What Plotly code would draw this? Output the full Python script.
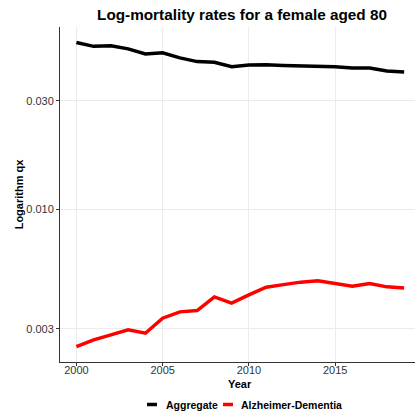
import plotly.graph_objects as go

years = list(range(2000, 2020))
aggregate = [0.0540, 0.0519, 0.0522, 0.0506, 0.0481, 0.0486, 0.0462, 0.0445, 0.0442, 0.0423,
             0.0430, 0.0431, 0.0428, 0.0427, 0.0426, 0.0422, 0.0417, 0.0417, 0.0405, 0.0401]
alzheimer = [0.002508, 0.002685, 0.002824, 0.002972, 0.002871, 0.003342, 0.003562, 0.003609,
             0.004143, 0.003888, 0.004227, 0.004570, 0.004688, 0.004808, 0.004871, 0.004758,
             0.004614, 0.004740, 0.004584, 0.004536]
series_names = ["Aggregate", "Alzheimer-Dementia"]
series_colors = ["black", "#ff0000"]
y_ticks = [0.003, 0.010, 0.030]
y_tick_labels = ["0.003", "0.010", "0.030"]
x_ticks = [2000, 2005, 2010, 2015]

W, H = 415, 412
L, R, T, B = 60, 0, 27, 50
pw, ph = W - L - R, H - T - B


def px_x(px):
    return (px - L) / pw


def px_y(py):
    return (H - B - py) / ph


fig = go.Figure()
for name, vals, col in zip(series_names, [aggregate, alzheimer], series_colors):
    fig.add_trace(go.Scatter(x=years, y=vals, mode="lines", name=name,
                             line=dict(color=col, width=3.5), showlegend=False))

# custom legend (short key lines like ggplot)
legend_pos = [(147, 164), (223, 239)]
for (sx, tx), name, col in zip(legend_pos, series_names, series_colors):
    fig.add_shape(type="line", xref="paper", yref="paper",
                  x0=px_x(sx), x1=px_x(sx + 10), y0=px_y(404.5), y1=px_y(404.5),
                  line=dict(color=col, width=3.5))
    fig.add_annotation(text=f"<b>{name}</b>", xref="paper", yref="paper",
                       x=px_x(tx), y=px_y(404.5), xanchor="left", yanchor="middle",
                       showarrow=False, font=dict(size=10.5, color="black"))

fig.add_annotation(text="<b>Year</b>", xref="paper", yref="paper",
                   x=px_x(240), y=px_y(384), xanchor="center", yanchor="middle",
                   showarrow=False, font=dict(size=11, color="black"))

fig.update_layout(
    width=W, height=H,
    margin=dict(l=L, r=R, t=T, b=B, autoexpand=False),
    paper_bgcolor="white", plot_bgcolor="white",
    font=dict(family="Liberation Sans, Arial", color="#333333", size=11),
    title=dict(text="<b>Log-mortality rates for a female aged 80</b>",
               x=242 / W, xanchor="center", xref="container",
               y=1 - 15 / H, yanchor="middle", yref="container",
               font=dict(size=15.3, color="black")),
    showlegend=False,
)
fig.update_xaxes(
    range=[1999.05, 2019.63], tickvals=x_ticks, ticks="outside", ticklen=3,
    tickcolor="#333333", showline=True, linecolor="#333333", linewidth=1,
    showgrid=True, gridcolor="#ebebeb", gridwidth=1, zeroline=False,
    tickfont=dict(size=11, color="#333333"), ticklabelstandoff=-5,
)
fig.update_yaxes(
    type="log", range=[-2.668, -1.200], tickvals=y_ticks, ticktext=y_tick_labels,
    ticks="outside", ticklen=3, tickcolor="#333333",
    showline=True, linecolor="#333333", linewidth=1,
    showgrid=True, gridcolor="#ebebeb", gridwidth=1, zeroline=False,
    tickfont=dict(size=11, color="#333333"),
    title=dict(text="<b>Logarithm qx</b>", font=dict(size=11, color="black"), standoff=0),
)
fig.write_html("out.html")
